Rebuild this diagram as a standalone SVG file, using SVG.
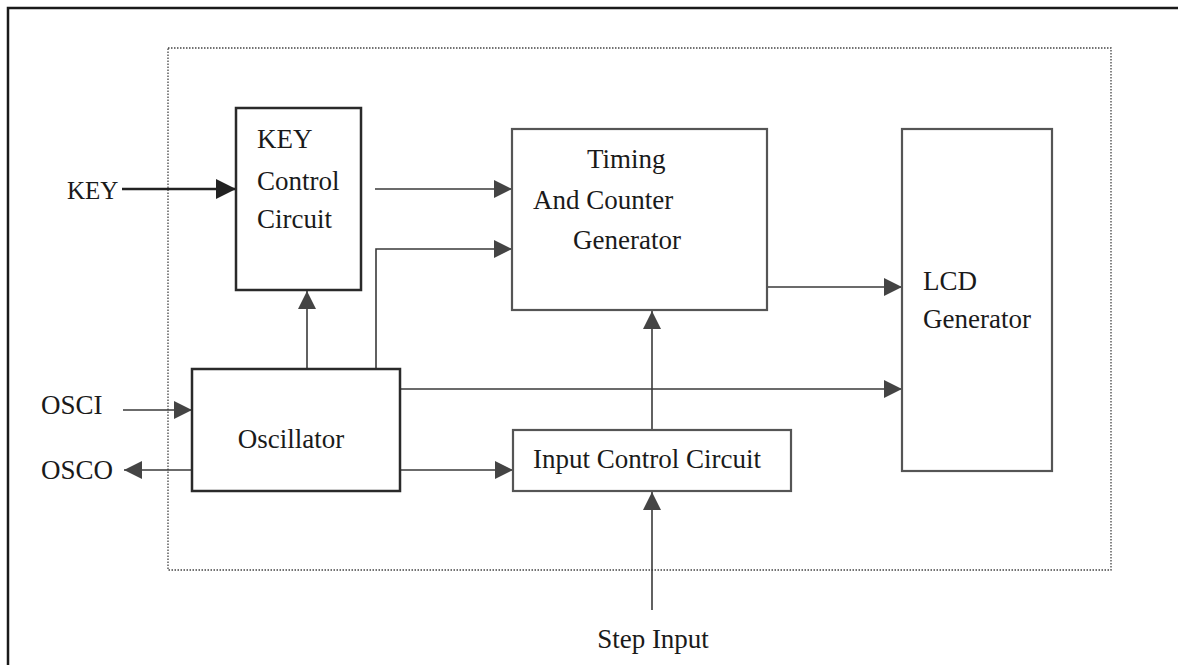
<svg xmlns="http://www.w3.org/2000/svg" width="1178" height="665" viewBox="0 0 1178 665">
<style>
.t{font-family:"Liberation Serif","Times New Roman",serif;font-size:27px;fill:#1a1a1a}
.box{fill:#fff;stroke:#2a2a2a;stroke-width:2.5}
.boxg{fill:#fff;stroke:#555;stroke-width:2.2}
.c{fill:none;stroke:#3a3a3a;stroke-width:1.6}
</style>
<defs>
<marker id="ah" markerUnits="userSpaceOnUse" markerWidth="18" markerHeight="18" refX="18" refY="9" orient="auto">
<path d="M0,0 L18,9 L0,18 Z" fill="#444"/>
</marker>
<marker id="ahb" markerUnits="userSpaceOnUse" markerWidth="20" markerHeight="20" refX="20" refY="10" orient="auto">
<path d="M0,0 L20,10 L0,20 Z" fill="#222"/>
</marker>
</defs>
<rect width="1178" height="665" fill="#fff"/>
<path d="M8,665 L8,8 L1178,8" fill="none" stroke="#1a1a1a" stroke-width="2.5"/>
<rect x="168" y="48" width="943" height="522" fill="none" stroke="#444" stroke-width="1.3" stroke-dasharray="1.5,1.5"/>

<g id="connectors">
<line x1="122" y1="189" x2="236" y2="189" stroke="#222" stroke-width="2.6" marker-end="url(#ahb)"/>
<line class="c" x1="123" y1="410" x2="192" y2="410" marker-end="url(#ah)"/>
<line class="c" x1="192" y1="470" x2="124" y2="470" marker-end="url(#ah)"/>
<line class="c" x1="307" y1="369" x2="307" y2="291" marker-end="url(#ah)"/>
<polyline class="c" points="376,369 376,249 512,249" marker-end="url(#ah)"/>
<line class="c" x1="375" y1="189" x2="512" y2="189" marker-end="url(#ah)"/>
<line class="c" x1="767" y1="287" x2="902" y2="287" marker-end="url(#ah)"/>
<line class="c" x1="400" y1="389" x2="902" y2="389" marker-end="url(#ah)"/>
<line class="c" x1="400" y1="470" x2="513" y2="470" marker-end="url(#ah)"/>
<line class="c" x1="652" y1="430" x2="652" y2="311" marker-end="url(#ah)"/>
<line class="c" x1="652" y1="610" x2="652" y2="492" marker-end="url(#ah)"/>
</g>

<g id="key-label"><text class="t" x="67" y="199" style="font-size:25px">KEY</text></g>
<g id="osci-label"><text class="t" x="41" y="414">OSCI</text></g>
<g id="osco-label"><text class="t" x="41" y="479">OSCO</text></g>
<g id="step-label"><text class="t" x="653" y="648" text-anchor="middle">Step Input</text></g>

<g id="key-control">
<rect class="box" x="236" y="108" width="125" height="182"/>
<text class="t" x="257" y="148">KEY</text>
<text class="t" x="257" y="190">Control</text>
<text class="t" x="257" y="228">Circuit</text>
</g>
<g id="timing">
<rect class="boxg" x="512" y="129" width="255" height="181"/>
<text class="t" x="587" y="168">Timing</text>
<text class="t" x="533" y="209">And Counter</text>
<text class="t" x="573" y="249">Generator</text>
</g>
<g id="lcd">
<rect class="boxg" x="902" y="129" width="150" height="342"/>
<text class="t" x="923" y="290">LCD</text>
<text class="t" x="923" y="328">Generator</text>
</g>
<g id="oscillator">
<rect class="box" x="192" y="369" width="208" height="122"/>
<text class="t" x="291" y="448" text-anchor="middle">Oscillator</text>
</g>
<g id="input-control">
<rect class="boxg" x="513" y="430" width="278" height="61"/>
<text class="t" x="647" y="468" text-anchor="middle">Input Control Circuit</text>
</g>
</svg>
